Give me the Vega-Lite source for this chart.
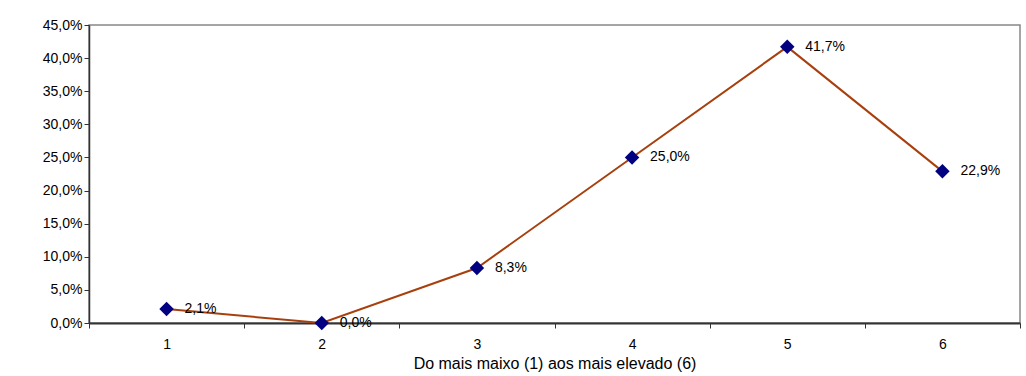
{
  "$schema": "https://vega.github.io/schema/vega-lite/v6.json",
  "width": 931,
  "height": 298,
  "autosize": {"type": "none"},
  "padding": {"left": 89, "top": 25, "right": 6, "bottom": 53},
  "background": "white",
  "config": {
    "locale": {"number": {"decimal": ",", "thousands": ".", "grouping": [3], "currency": ["", " €"]}},
    "font": "Liberation Sans",
    "view": {"stroke": "#888888", "strokeWidth": 1.5},
    "axis": {"grid": false, "labelFont": "Liberation Sans", "titleFont": "Liberation Sans", "labelColor": "black", "titleColor": "black", "titleFontWeight": "normal", "domainColor": "#333333", "tickColor": "#333333", "labelFontSize": 14},
    "axisX": {"labelFontSize": 14},
    "axisY": {"labelFontSize": 14}
  },
  "data": {"values": [
    {"nivel": 1, "pct": 0.021},
    {"nivel": 2, "pct": 0.0},
    {"nivel": 3, "pct": 0.083},
    {"nivel": 4, "pct": 0.25},
    {"nivel": 5, "pct": 0.417},
    {"nivel": 6, "pct": 0.229}
  ]},
  "encoding": {
    "y": {"field": "pct", "type": "quantitative", "scale": {"domain": [0, 0.45], "nice": false},
          "axis": {"format": ".1%", "values": [0, 0.05, 0.1, 0.15, 0.2, 0.25, 0.3, 0.35, 0.4, 0.45], "labelOverlap": false, "labelFontSize": 14, "tickSize": 5, "labelPadding": 2, "domainWidth": 1.5, "title": null}}
  },
  "resolve": {"axis": {"x": "independent"}},
  "layer": [
    {
      "mark": {"type": "line", "color": "#A8400E", "strokeWidth": 2},
      "encoding": {
        "x": {"field": "nivel", "type": "quantitative", "scale": {"domain": [0.5, 6.5], "nice": false, "zero": false},
              "axis": {"orient": "bottom", "values": [0.5, 1.5, 2.5, 3.5, 4.5, 5.5, 6.5], "labels": false, "ticks": true, "tickSize": 5, "domain": true, "domainWidth": 2, "title": null}}
      }
    },
    {
      "mark": {"type": "point", "shape": "diamond", "filled": true, "color": "#000080", "size": 210, "opacity": 1},
      "encoding": {
        "x": {"field": "nivel", "type": "quantitative",
              "axis": {"orient": "bottom", "values": [1, 2, 3, 4, 5, 6], "format": "d", "labelOverlap": false, "labelFontSize": 14, "ticks": false, "domain": false, "labelPadding": 14, "title": "Do mais maixo (1) aos mais elevado (6)", "titleFontSize": 16, "titlePadding": 4}}
      }
    },
    {
      "mark": {"type": "text", "align": "left", "baseline": "middle", "dx": 18, "fontSize": 14, "color": "black"},
      "encoding": {
        "x": {"field": "nivel", "type": "quantitative", "axis": null},
        "text": {"field": "pct", "type": "quantitative", "format": ".1%"}
      }
    }
  ]
}
